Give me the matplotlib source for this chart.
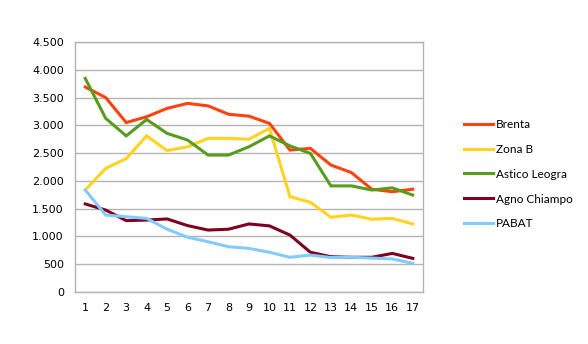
import matplotlib
matplotlib.use("Agg")
import matplotlib.pyplot as plt
from matplotlib.ticker import FuncFormatter

x = list(range(1, 18))

brenta = [3690, 3500, 3050, 3155, 3305, 3395, 3350, 3200, 3165, 3035, 2555, 2585, 2285, 2150, 1850, 1805, 1850]
zona_b = [1836, 2225, 2400, 2810, 2545, 2615, 2765, 2765, 2750, 2945, 1715, 1615, 1345, 1385, 1310, 1325, 1225]
astico = [3845, 3125, 2810, 3105, 2855, 2735, 2465, 2465, 2615, 2810, 2630, 2495, 1910, 1910, 1835, 1875, 1745]
agno = [1585, 1475, 1285, 1295, 1315, 1195, 1115, 1130, 1225, 1190, 1025, 715, 635, 625, 625, 695, 605]
pabat = [1836, 1385, 1355, 1325, 1130, 985, 905, 815, 785, 715, 625, 665, 620, 625, 610, 595, 515]

names = ["Brenta", "Zona B", "Astico Leogra", "Agno Chiampo", "PABAT"]
colors = ["#FF420E", "#FFD320", "#579D1C", "#7E0021", "#83CAFF"]

fig = plt.figure(figsize=(5.88, 3.44), dpi=100)
ax = fig.add_axes([75/588, 52/344, 348/588, 250/344])

for vals, name, c in zip([brenta, zona_b, astico, agno, pabat], names, colors):
    ax.plot(x, vals, color=c, lw=2.2, label=name, solid_joinstyle="miter")

ax.set_xlim(0.5, 17.5)
ax.set_ylim(0, 4500)
ax.set_yticks(range(0, 4501, 500))
ax.set_xticks(x)
ax.yaxis.set_major_formatter(FuncFormatter(lambda v, p: f"{int(v):,}".replace(",", ".")))
ax.grid(axis="y", color="#b3b3b3", lw=1)
ax.set_axisbelow(True)
for s in ax.spines.values():
    s.set_color("#b3b3b3")
    s.set_linewidth(1)
ax.tick_params(length=0, labelsize=8, colors="black")
ax.tick_params(axis="y", pad=8)
ax.tick_params(axis="x", pad=8)

leg = fig.legend(loc="upper left", bbox_to_anchor=(459/588, 1 - 114/344), frameon=False,
                 prop={"family": "Lato", "size": 8.5}, handlelength=2.5, handletextpad=0.25,
                 labelspacing=1.18, borderaxespad=0)

fig.savefig("out.png", dpi=100)
